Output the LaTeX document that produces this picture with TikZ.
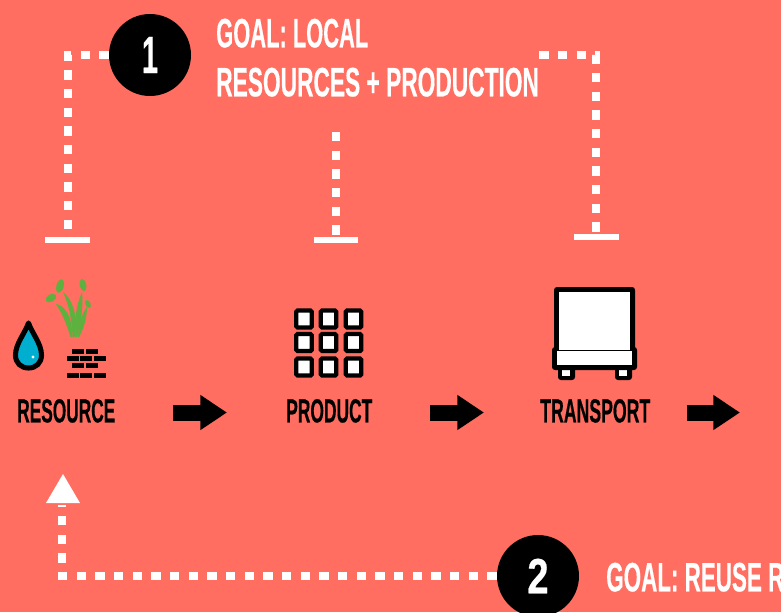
\documentclass[tikz,border=0pt]{standalone}
\usepackage{fontspec}
\usepackage{graphicx}
\setmainfont[BoldFeatures={FakeBold=0.5}]{Liberation Sans}
\usetikzlibrary{arrows.meta,calc}
\definecolor{bgc}{HTML}{FF6E60}
\definecolor{dropc}{HTML}{00AECF}
\definecolor{leafc}{HTML}{5DB13F}
\tikzset{
  x=0.75pt,y=-0.75pt,
  lab/.style={inner sep=0pt,anchor=south west,font=\bfseries},
  whitelab/.style={lab,text=white},
  blacklab/.style={lab,text=black},
  badge/.style={circle,fill=black,minimum size=61.5pt,inner sep=0pt,text=white,font=\bfseries},
  dots/.style={draw=white,line width=5.3pt,dash pattern=on 7pt off 7pt},
  bar/.style={draw=white,line width=4.6pt},
  flow/.style={draw=black,line width=12pt,-{Triangle[length=20pt,width=25pt]}},
  brick/.style={fill=black},
  leaf/.style={fill=leafc},
  cell/.style={draw=black,fill=white,line width=3.2pt,rounded corners=1pt},
  truckblack/.style={fill=black,rounded corners=2.2pt},
  truckwhite/.style={fill=white},
}
\begin{document}
\begin{tikzpicture}
\useasboundingbox (0,0) rectangle (781,612);
\clip (0,0) rectangle (781,612);
\fill[bgc] (0,0) rectangle (781,612);

% texts
\node[whitelab] (goalone) at (216,48) {\resizebox{114pt}{21.5pt}{GOAL: LOCAL}};
\node[whitelab] (goalonetwo) at (216,97) {\resizebox{242pt}{21.5pt}{RESOURCES + PRODUCTION}};
\node[whitelab] (goaltwo) at (606,592) {\resizebox{133.5pt}{21.5pt}{GOAL: REUSE R}};
\node[blacklab] (resource) at (17,423) {\resizebox{73.5pt}{17.5pt}{RESOURCE}};
\node[blacklab] (product) at (286,423) {\resizebox{64.5pt}{17.5pt}{PRODUCT}};
\node[blacklab] (transport) at (540,423) {\resizebox{82.5pt}{17.5pt}{TRANSPORT}};

% badges
\node[badge] (one) at (150,55) {};
\node[badge] (two) at (538,576) {};
\node[text=white,inner sep=0pt] (onedigit) at (one.center) {\resizebox{12pt}{27pt}{\bfseries 1}};
\node[text=white,inner sep=0pt] (twodigit) at (two.center) {\resizebox{16pt}{26pt}{\bfseries 2}};

% free ends
\coordinate (c1) at (68,55);
\coordinate (e1) at (68,240);
\coordinate (s2) at (336,132);
\coordinate (e2) at (336,240);
\coordinate (c3) at (596,55);
\coordinate (e3) at (596,237);
\coordinate (c4) at (62,576);
\coordinate (e4) at (62,505);
\coordinate (end) at (740,412.5);

% dotted brackets
\draw[dots] (one.west) -- (c1) -- (e1);
\draw[dots] (s2) -- (e2);
\draw[dots] (goalonetwo.east |- c3) -- (c3) -- (e3);
\draw[dots] (two.west) -- (c4) -- (e4);
\draw[bar] (45,240) -- (90,240);
\draw[bar] (314,240) -- (358,240);
\draw[bar] (574,237) -- (619,237);
\fill[white] (46,503) -- (63,474) -- (80,503) -- cycle;

% flow arrows
\draw[flow,shorten <=43.25pt,shorten >=44.25pt] (resource.east |- end) -- (product.west |- end);
\draw[flow,shorten <=43.25pt,shorten >=42pt] (product.east |- end) -- (transport.west |- end);
\draw[flow,shorten <=27pt] (transport.east |- end) -- (end);

% drop
\draw[black,fill=dropc,line width=3.8pt,line join=round]
  (28.5,323) .. controls (25,333) and (15.5,344) .. (15.5,355)
  .. controls (15.5,363) and (21,368) .. (28.5,368)
  .. controls (36,368) and (41.5,363) .. (41.5,355)
  .. controls (41.5,344) and (32,333) .. (28.5,323) -- cycle;
\fill[white] (33,357) circle[radius=1.6];

% plant
\fill[leaf] (70.5,337) .. controls (67,325) and (62,313) .. (56,304) .. controls (64,305) and (73,316) .. (72,337) -- cycle;
\fill[leaf] (72.5,337) .. controls (72,320) and (69,305) .. (63,292) .. controls (72,298) and (79,318) .. (74.5,337) -- cycle;
\fill[leaf] (75.5,337) .. controls (74.5,320) and (76,305) .. (82,292) .. controls (83.5,306) and (81,322) .. (77,337) -- cycle;
\fill[leaf] (78,337) .. controls (78.5,325) and (80.5,316) .. (87,307) .. controls (87,317) and (84,328) .. (79,337) -- cycle;
\fill[leaf,rotate around={-15:(60,286)}] (60,286) ellipse[x radius=3.6,y radius=6.8];
\fill[leaf,rotate around={12:(83,285)}] (83,285) ellipse[x radius=3.2,y radius=6.2];
\fill[leaf,rotate around={-60:(51,298)}] (51,298) ellipse[x radius=3.8,y radius=5.6];
\fill[leaf,rotate around={25:(88,304)}] (88,304) ellipse[x radius=2.6,y radius=4.2];

% bricks
\foreach \xa/\ya in {72/349,86/349,67/356,80/356,94/356,72/363,86/363,67/373,80/373,94/373}
  \fill[brick] (\xa,\ya) rectangle ++(12,5);

% product grid
\foreach \xb in {304,328.5,353.5}
  \foreach \yb in {319,342.5,367}
    \draw[cell] (\xb-7.7,\yb-8.6) rectangle (\xb+7.7,\yb+8.6);

% truck
\fill[truckblack] (558,358) rectangle (575,380);
\fill[truckblack] (615,358) rectangle (632,380);
\fill[truckwhite] (562,365) rectangle (570,376);
\fill[truckwhite] (619,365) rectangle (627,376);
\fill[truckblack] (554,287) rectangle (635,352);
\fill[truckblack] (552,347) rectangle (637,370);
\fill[truckwhite] (559,292) rectangle (630,350);
\fill[truckwhite] (557,351) rectangle (632,365);
\end{tikzpicture}
\end{document}
